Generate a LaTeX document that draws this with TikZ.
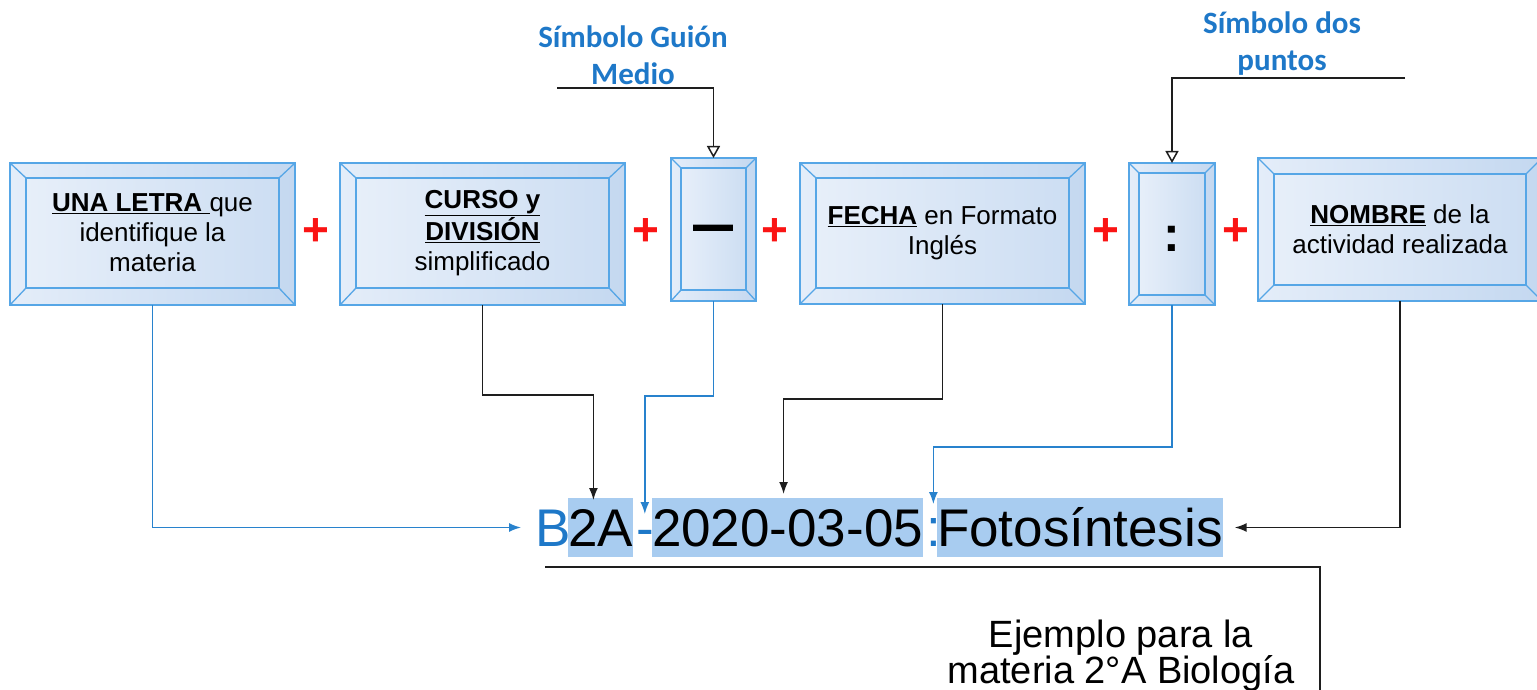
\documentclass[tikz,border=0pt]{standalone}
\usepackage{fontspec}
\usepackage{graphicx}
\setmainfont{Liberation Sans}
\newfontfamily\calibrifont{Carlito}
\usetikzlibrary{arrows.meta,calc}
\definecolor{bbord}{RGB}{86,166,230}
\definecolor{bfillA}{RGB}{228,237,249}
\definecolor{bfillB}{RGB}{196,216,240}
\definecolor{lblue}{RGB}{30,120,200}
\definecolor{cblue}{RGB}{40,130,205}
\definecolor{hilite}{RGB}{168,204,240}
\definecolor{plusred}{RGB}{250,20,20}
\definecolor{cblack}{RGB}{30,30,30}
\newcommand{\bevellines}[2]{\draw[bline] (#1.north west) -- (#2.north west) (#1.north east) -- (#2.north east) (#1.south west) -- (#2.south west) (#1.south east) -- (#2.south east);}
\tikzset{
  frame/.style={draw=bbord, line width=1.6pt, left color=bfillA, right color=bfillB, inner sep=0pt, outer sep=0pt},
  face/.style={draw=bbord, line width=1.6pt, left color=bfillA!90!white, right color=bfillB!85!white, inner sep=0pt, outer sep=0pt, align=center, font=\fontsize{26}{30}\selectfont},
  bline/.style={draw=bbord, line width=1.3pt},
  plussign/.style={text=plusred, font=\bfseries\fontsize{46}{50}\selectfont, inner sep=0pt, anchor=base},
  toplabel/.style={text=lblue, font=\calibrifont\bfseries\fontsize{31}{37}\selectfont, align=center, inner sep=0pt},
  strpart/.style={font=\fontsize{53}{60}\selectfont, inner sep=0pt, outer sep=0pt, text height=48pt, text depth=11pt, anchor=base west},
  hl/.style={strpart, fill=hilite},
  bconn/.style={draw=cblack, line width=1.5pt, -{Latex[length=12pt,width=9pt]}},
  uconn/.style={draw=cblue, line width=1.5pt, -{Latex[length=12pt,width=9pt]}},
  tconn/.style={draw=cblack, line width=1.5pt, -{Triangle[open,length=12pt,width=13pt,fill=white]}},
}
\begin{document}
\begin{tikzpicture}[x=1pt,y=-1pt]
\useasboundingbox (0,0) rectangle (1537,690);

% boxes
\node[frame, minimum width=285pt, minimum height=142pt] (b1) at (152.5,234) {};
\node[face, minimum width=253pt, minimum height=110pt] (t1) at (152.5,233) {\underline{\textbf{UNA LETRA}\ }que\\identifique la\\materia};
\bevellines{b1}{t1}

\node[frame, minimum width=285pt, minimum height=142pt] (b2) at (482.5,234) {};
\node[face, minimum width=253pt, minimum height=110pt] (t2) at (482.5,233) {\underline{\textbf{CURSO y}}\\\underline{\textbf{DIVISIÓN}}\\simplificado};
\bevellines{b2}{t2}

\node[frame, minimum width=85pt, minimum height=143pt] (b3) at (713.5,229.5) {};
\node[face, minimum width=65pt, minimum height=122pt, font=\bfseries\fontsize{40}{44}\selectfont] (t3) at (713.5,229) {\smash{\raisebox{-17pt}{\scalebox{1}[1.6]{—}}}};
\bevellines{b3}{t3}

\node[frame, minimum width=285pt, minimum height=141pt] (b4) at (942.5,233.5) {};
\node[face, minimum width=253pt, minimum height=110pt] (t4) at (942.5,233) {\underline{\textbf{FECHA}}\ en Formato\\Inglés};
\bevellines{b4}{t4}

\node[frame, minimum width=86pt, minimum height=142pt] (b5) at (1172,234) {};
\node[face, minimum width=66pt, minimum height=122pt, font=\bfseries\fontsize{50}{52}\selectfont] (t5) at (1172,234) {\smash{\raisebox{-17pt}{:}}};
\bevellines{b5}{t5}

\node[frame, minimum width=284pt, minimum height=143pt] (b6) at (1400,229.5) {};
\node[face, minimum width=252pt, minimum height=111pt] (t6) at (1400,229.5) {\underline{\textbf{NOMBRE}}\ de la\\actividad realizada};
\bevellines{b6}{t6}

% plus signs
\node[plussign] (p1) at (316,245) {+};
\node[plussign] (p2) at (646,245) {+};
\node[plussign] (p3) at (775,245) {+};
\node[plussign] (p4) at (1106,245) {+};
\node[plussign] (p5) at (1236,245) {+};

% top labels
\node[toplabel] (l1) at (633,55) {Símbolo Guión\\Medio};
\node[toplabel] (l2) at (1282,44) {Símbolo dos\\puntos};
\coordinate (l1start) at (557,88);
\coordinate (l2start) at (1405,78);
\draw[tconn] (l1start) -| (b3.north);
\draw[tconn] (l2start) -| (b5.north);

% resulting string
\node[strpart, text=lblue] (sB) at (535,546) {B};
\node[hl] (s2A) at (568,546) {2A};
\node[strpart, text=lblue] (sD) at (636,546) {-};
\node[hl] (sDate) at (652,546) {2020-03-05};
\node[strpart, text=lblue] (sC) at (926,546) {:};
\node[hl] (sF) at (937,546) {Fotosíntesis};

% connectors
\draw[uconn, shorten >=14pt] (b1.south) |- (sB.west);
\draw[bconn] (b2.south) -- ++(0,90) -| ($(s2A.north)+(-7,2)$);
\draw[uconn] (b3.south) -- ++(0,95) -| ($(sD.north)+(0,16)$);
\draw[bconn] (b4.south) -- ++(0,95) -| ($(sDate.north)+(-4,-4)$);
\draw[uconn] (b5.south) -- ++(0,142) -| ($(sC.north)+(0,6)$);
\draw[bconn, shorten >=12pt] (b6.south) |- (sF.east);

% example callout
\node[align=center, font=\fontsize{38}{36}\selectfont, inner sep=0pt, anchor=base] (ex) at (1121,683) {Ejemplo para la\\materia 2°A Biología};
\coordinate (cA) at (545,567);
\coordinate (cB) at (1320,567);
\coordinate (cC) at (1320,692);
\draw[draw=cblack, line width=1.5pt] (cA) -- (cB) -- (cC);
\end{tikzpicture}
\end{document}
